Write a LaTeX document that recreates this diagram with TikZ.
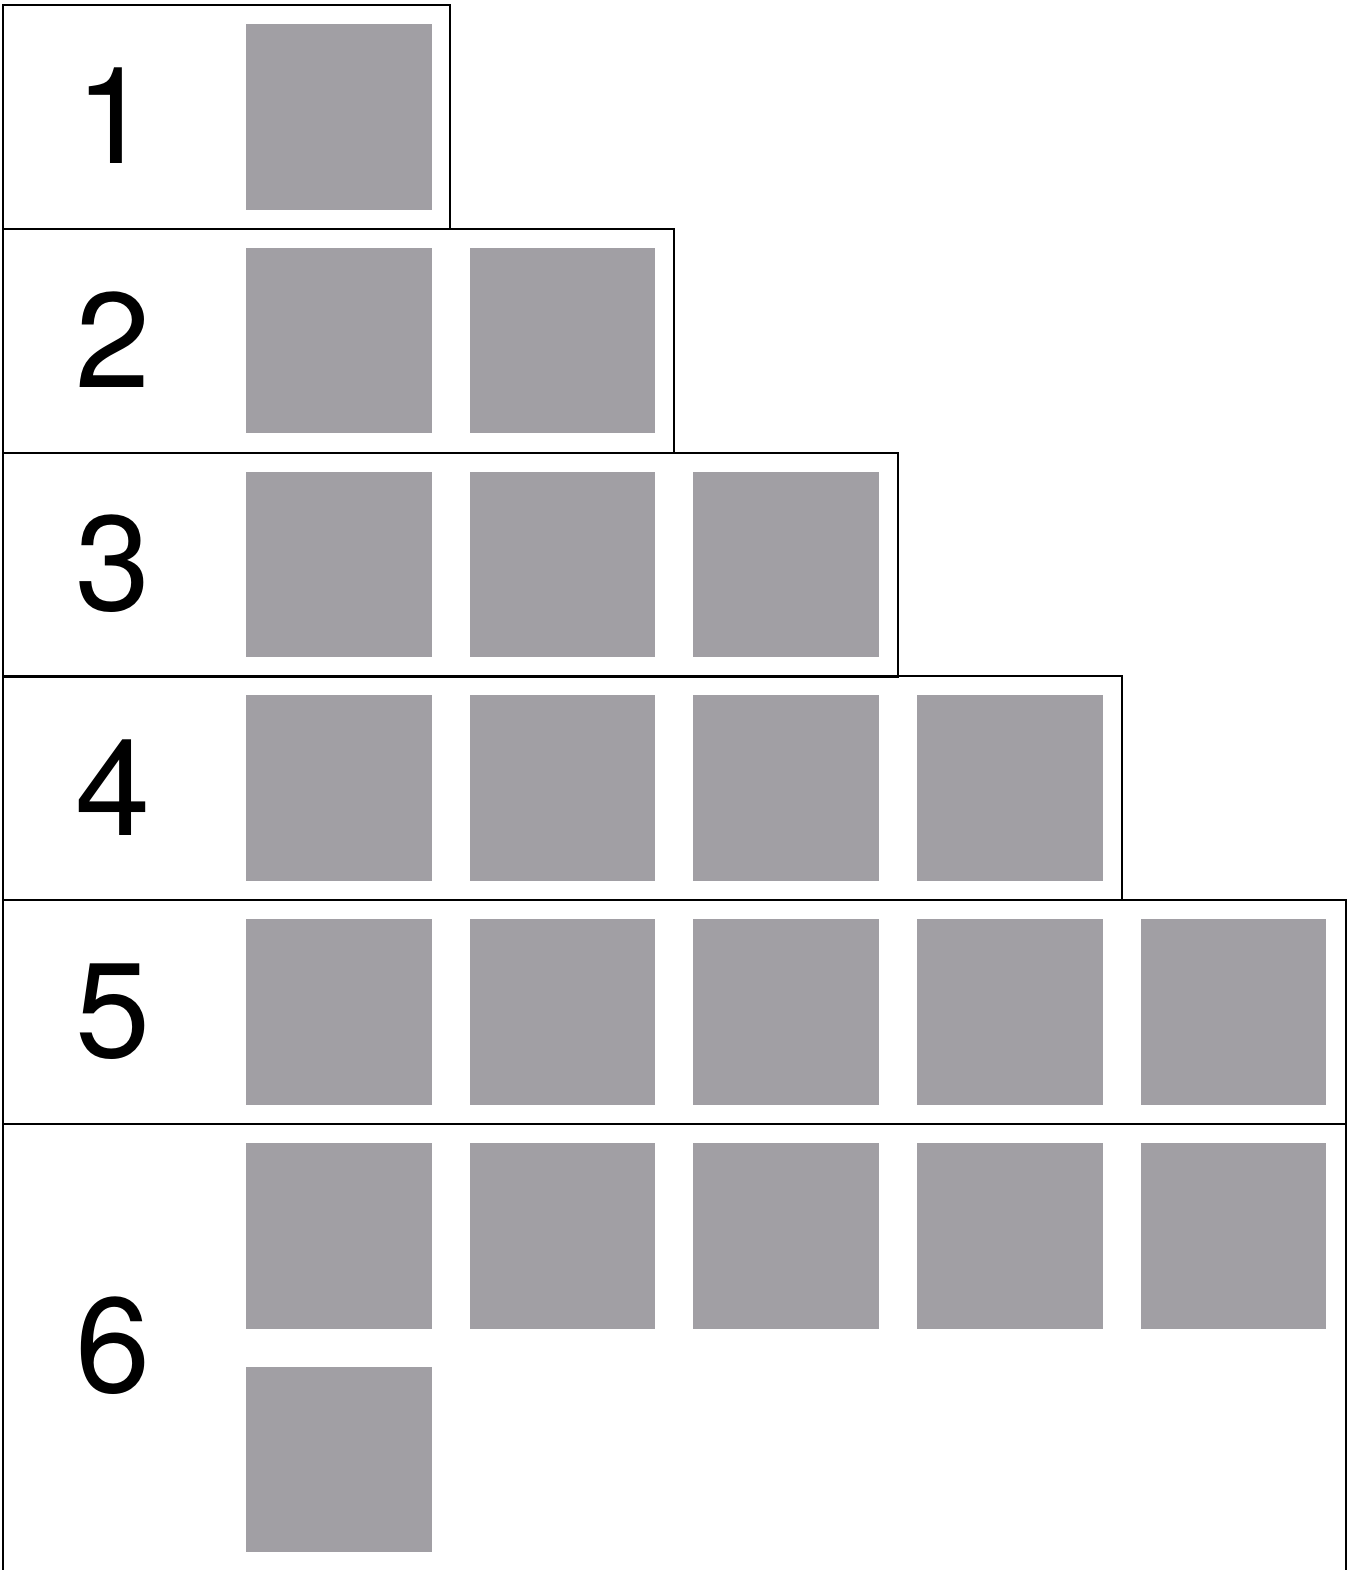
\documentclass[tikz,border=0pt]{standalone}
\usepackage{fontspec}
\setmainfont{TeX Gyre Heros}
\usepackage{xcolor}
\usetikzlibrary{positioning}
\definecolor{tilegray}{HTML}{A19FA4}
\tikzset{
    rowframe/.style={draw=black,line width=1pt},
    tile/.style={fill=tilegray,draw=none,minimum size=92.75pt,
      inner sep=0pt,outer sep=0pt,anchor=north west},
    rowlabel/.style={font=\fontsize{67.5}{80}\selectfont,inner sep=0pt}
}

\begin{document}
\begin{tikzpicture}[x=0.5pt,y=-0.5pt]
    \useasboundingbox (0,0) rectangle (1353,1570);
    % row frames, the last one open at the bottom
    \foreach \r in {1,...,5}{
      \draw[rowframe] (3,{5+(\r-1)*223.8}) rectangle ({450+(\r-1)*223.9},{229+(\r-1)*223.8});
    }
    \draw[rowframe] (3,1570) -- (3,1124) -- (1346,1124) -- (1346,1570);
    % row numbers
    \foreach \r in {1,...,5}{
      \node[rowlabel] (n-\r) at (113,{116+(\r-1)*223.8}) {\r};
    }
    \node[rowlabel] (n-6) at (113,1346) {6};
    % tiles
    \foreach \r in {1,...,5}{
      \foreach \c in {1,...,\r}{
        \node[tile] (t-\r-\c) at ({246+(\c-1)*223.7},{24+(\r-1)*223.8}) {};
      }
    }
    \foreach \c in {1,...,5}{
      \node[tile] (t-6-\c) at ({246+(\c-1)*223.7},1143) {};
    }
    \node[tile,below=19pt of t-6-1.south west,anchor=north west] (t-6-6) {};
\end{tikzpicture}
\end{document}
